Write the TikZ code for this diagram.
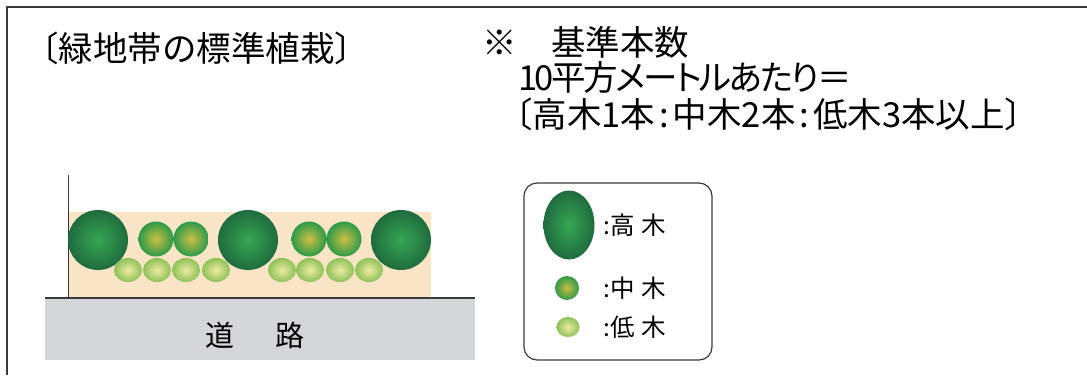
\documentclass[tikz,border=0pt]{standalone}
\usepackage{fontspec}
\newfontfamily\jpfont{Noto Sans CJK JP}
\newfontfamily\jpprop{Noto Sans CJK JP}[RawFeature=+palt, LetterSpace=-7]
\usepackage{tikz}
\usetikzlibrary{shapes.geometric}

\definecolor{framegray}{HTML}{3A3A3A}
\definecolor{bedcolor}{HTML}{F9E4C6}
\definecolor{roadgray}{HTML}{D4D6D7}
\definecolor{talllight}{HTML}{36A653}
\definecolor{talldark}{HTML}{1F6C3E}
\definecolor{midlight}{HTML}{CDBF45}
\definecolor{middark}{HTML}{2C9A48}
\definecolor{lowlight}{HTML}{EFEBA2}
\definecolor{lowdark}{HTML}{8DC158}

\begin{document}
\begin{tikzpicture}[x=1pt, y=-1pt,
		bigtext/.style={anchor=west, inner sep=0pt, font=\jpfont\fontsize{34.5}{38}\selectfont},
		keytext/.style={anchor=west, inner sep=0pt, font=\jpfont\fontsize{24.5}{27}\selectfont},
		tall/.style={circle, inner sep=0pt, minimum size=60pt, inner color=talllight, outer color=talldark},
		middle/.style={circle, inner sep=0pt, minimum size=35pt, inner color=midlight, outer color=middark},
		low/.style={ellipse, inner sep=0pt, minimum width=28pt, minimum height=24pt, inner color=lowlight, outer color=lowdark}]
	\useasboundingbox (0,0) rectangle (1087,375);
	
	\draw[framegray, line width=1.5pt] (7,375) -- (7,7) -- (1087,7);
	
	\node[bigtext] (title) at (24,48) {〔緑地帯の標準植栽〕};
	\node[bigtext] (note1) at (482,42) {※　基準本数};
	\node[bigtext, font=\jpprop\fontsize{34.5}{38}\selectfont] (note2) at (518,77) {10平方メートルあたり＝};
	\node[bigtext] (note3) at (498,114) {〔高木1本\kern4pt:\kern4pt中木2本\kern4pt:\kern4pt低木3本以上〕};
	
	\fill[bedcolor] (68,212) rectangle (431,298);
	\draw[framegray, line width=1pt] (68,175) -- (68,297);
	\fill[roadgray] (45,298) rectangle (475,360);
	\draw[framegray, line width=1.2pt] (45,298) -- (475,298);
	\node[font=\jpfont\fontsize{29}{32}\selectfont] (road) at (255,335) {道\hspace{42pt}路};
	
	\node[tall] (t1) at (98,240) {};
	\node[tall] (t2) at (248,240) {};
	\node[tall] (t3) at (401,240) {};
	
	\node[middle] (m1) at (156,239) {};
	\node[middle] (m2) at (191,239) {};
	\node[middle] (m3) at (309,239) {};
	\node[middle] (m4) at (344,239) {};
	
	\node[low] (l1) at (128,270) {};
	\node[low] (l2) at (157,270) {};
	\node[low] (l3) at (186,270) {};
	\node[low] (l4) at (216,270) {};
	\node[low] (l5) at (282,270) {};
	\node[low] (l6) at (310,270) {};
	\node[low] (l7) at (340,270) {};
	\node[low] (l8) at (369,270) {};
	
	\draw[framegray, line width=1.2pt, rounded corners=13pt] (524,183) rectangle (712,360);
	\node[ellipse, inner sep=0pt, minimum width=51pt, minimum height=69pt, inner color=talllight, outer color=talldark] (keytall) at (569,225) {};
	\node[circle, inner sep=0pt, minimum size=24pt, inner color=midlight, outer color=middark] (keymid) at (567,288) {};
	\node[ellipse, inner sep=0pt, minimum width=23pt, minimum height=20pt, inner color=lowlight, outer color=lowdark] (keylow) at (568,327) {};
	\node[keytext] (keytalltext) at (603,225) {:高\hspace{7pt}木};
	\node[keytext] (keymidtext) at (603,288) {:中\hspace{7pt}木};
	\node[keytext] (keylowtext) at (603,327) {:低\hspace{7pt}木};
\end{tikzpicture}
\end{document}
